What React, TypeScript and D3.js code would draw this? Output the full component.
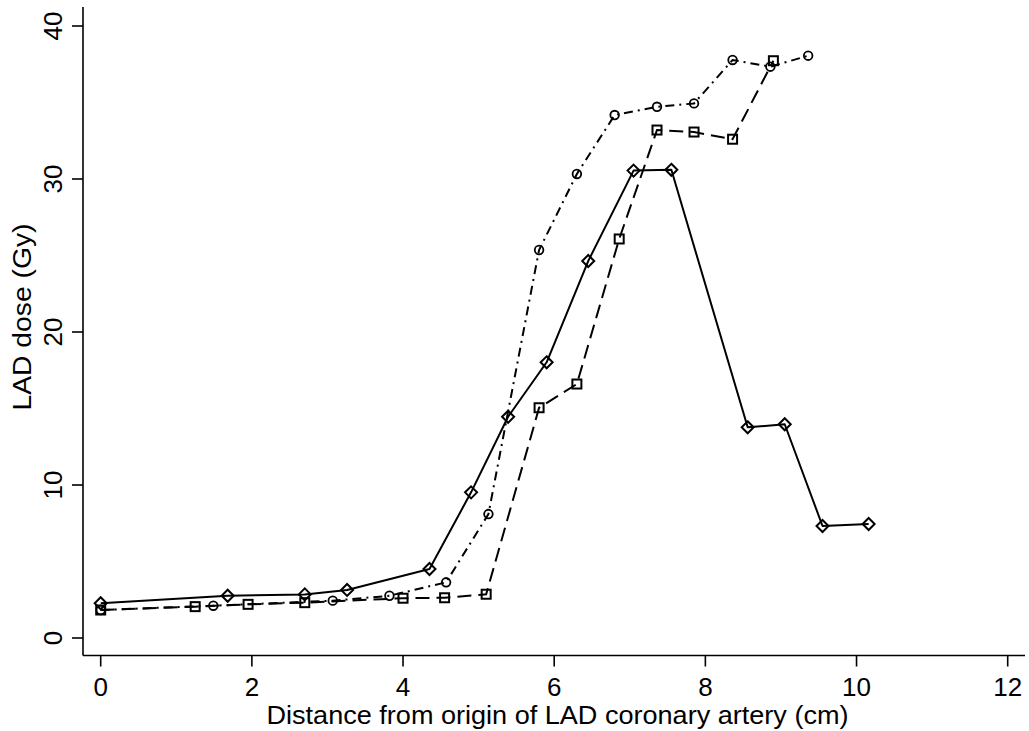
import React from "react";
import * as d3 from "d3";

const xTicks = [0, 2, 4, 6, 8, 10, 12];
const yTicks = [0, 10, 20, 30, 40];

const diamondX = [0, 1.68, 2.7, 3.26, 4.35, 4.9, 5.39, 5.9, 6.45, 7.05, 7.55, 8.56, 9.05, 9.55, 10.16];
const diamondY = [2.27, 2.76, 2.85, 3.14, 4.51, 9.52, 14.46, 18.02, 24.64, 30.55, 30.6, 13.77, 13.97, 7.32, 7.45];

const squareX = [0, 1.25, 1.95, 2.7, 4.0, 4.55, 5.1, 5.8, 6.3, 6.86, 7.36, 7.85, 8.36, 8.9];
const squareY = [1.83, 2.05, 2.2, 2.31, 2.6, 2.63, 2.86, 15.05, 16.6, 26.08, 33.2, 33.07, 32.6, 37.73];

const circleX = [0, 1.49, 3.07, 3.82, 4.57, 5.13, 5.8, 6.3, 6.8, 7.36, 7.85, 8.36, 8.86, 9.36];
const circleY = [1.83, 2.11, 2.44, 2.76, 3.64, 8.1, 25.36, 30.33, 34.18, 34.72, 34.94, 37.78, 37.34, 38.06];

const xLabel = "Distance from origin of LAD coronary artery (cm)";
const yLabel = "LAD dose (Gy)";

export default function App() {
  const W = 1029;
  const H = 731;
  const x = d3.scaleLinear().domain([0, 12]).range([100.7, 1007.7]);
  const y = d3.scaleLinear().domain([0, 40]).range([638, 26]);
  const axisX = 83;
  const axisY = 655.5;
  const font = "Liberation Sans, Arial, Helvetica, sans-serif";

  const line = d3
    .line<[number, number]>()
    .x((d) => x(d[0]))
    .y((d) => y(d[1]));

  const zip = (a: number[], b: number[]) => a.map((v, i) => [v, b[i]] as [number, number]);
  const dia = zip(diamondX, diamondY);
  const sq = zip(squareX, squareY);
  const cir = zip(circleX, circleY);

  const sw = 2;

  return (
    <svg
      width={W}
      height={H}
      style={{ position: "absolute", left: 0, top: 0, background: "#fff" }}
      fontFamily={font}
    >
      <rect x={0} y={0} width={W} height={H} fill="#fff" />
      {/* axes */}
      <line x1={axisX} y1={7} x2={axisX} y2={axisY} stroke="#000" strokeWidth={1.6} />
      <line x1={axisX} y1={axisY} x2={1025} y2={axisY} stroke="#000" strokeWidth={1.6} />
      {yTicks.map((t) => (
        <g key={"y" + t}>
          <line x1={72} x2={axisX} y1={y(t)} y2={y(t)} stroke="#000" strokeWidth={1.6} />
          <text
            transform={`translate(62,${y(t)}) rotate(-90)`}
            textAnchor="middle"
            fontSize={26}
            fill="#000"
          >
            {t}
          </text>
        </g>
      ))}
      {xTicks.map((t) => (
        <g key={"x" + t}>
          <line x1={x(t)} x2={x(t)} y1={axisY} y2={666.5} stroke="#000" strokeWidth={1.6} />
          <text x={x(t)} y={696} textAnchor="middle" fontSize={26} fill="#000">
            {t}
          </text>
        </g>
      ))}
      <text
        x={557.5}
        y={723.5}
        textAnchor="middle"
        fontSize={26}
        fill="#000"
        textLength={582}
        lengthAdjust="spacingAndGlyphs"
      >
        {xLabel}
      </text>
      <text
        transform={`translate(31,317) rotate(-90)`}
        textAnchor="middle"
        fontSize={26}
        fill="#000"
        textLength={187}
        lengthAdjust="spacingAndGlyphs"
      >
        {yLabel}
      </text>

      {/* series lines */}
      <path d={line(dia) || ""} fill="none" stroke="#000" strokeWidth={sw} strokeLinejoin="round" />
      <path
        d={line(sq) || ""}
        fill="none"
        stroke="#000"
        strokeWidth={sw}
        strokeDasharray="14 7"
      />
      <path
        d={line(cir) || ""}
        fill="none"
        stroke="#000"
        strokeWidth={sw}
        strokeDasharray="9 5 2 5"
      />

      {/* markers */}
      {dia.map((d, i) => (
        <path
          key={"d" + i}
          transform={`translate(${x(d[0])},${y(d[1])})`}
          d="M0,-6L6,0L0,6L-6,0Z"
          fill="none"
          stroke="#000"
          strokeWidth={2}
        />
      ))}
      {sq.map((d, i) => (
        <rect
          key={"s" + i}
          x={x(d[0]) - 4.5}
          y={y(d[1]) - 4.5}
          width={9}
          height={9}
          fill="none"
          stroke="#000"
          strokeWidth={2}
        />
      ))}
      {cir.map((d, i) => (
        <circle
          key={"c" + i}
          cx={x(d[0])}
          cy={y(d[1])}
          r={4.3}
          fill="none"
          stroke="#000"
          strokeWidth={1.8}
        />
      ))}
    </svg>
  );
}
